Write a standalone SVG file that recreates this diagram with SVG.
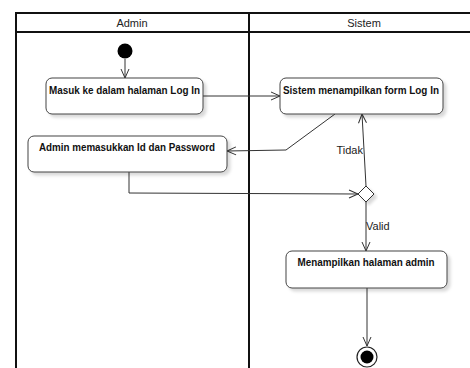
<svg xmlns="http://www.w3.org/2000/svg" width="470" height="368" viewBox="0 0 470 368">
<defs>
<marker id="arr" markerWidth="12" markerHeight="12" refX="10" refY="5" orient="auto" markerUnits="userSpaceOnUse">
<path d="M1,1 L10,5 L1,9" fill="none" stroke="#333" stroke-width="1"/>
</marker>
<filter id="sh" x="-10%" y="-20%" width="130%" height="150%">
<feDropShadow dx="3" dy="3" stdDeviation="1.5" flood-color="#000" flood-opacity="0.15"/>
</filter>
</defs>
<style>
.lane{fill:none;stroke:#111;stroke-width:2}
.hdr{font-family:"Liberation Sans",Arial,sans-serif;font-size:11px;fill:#222;text-anchor:middle}
.box{fill:#fff;stroke:#444;stroke-width:1;filter:url(#sh)}
.lbl{font-family:"Liberation Sans",Arial,sans-serif;font-size:11px;font-weight:bold;fill:#111;text-anchor:middle}
.edge{fill:none;stroke:#333;stroke-width:1;marker-end:url(#arr)}
.plain{fill:none;stroke:#333;stroke-width:1}
.elbl{font-family:"Liberation Sans",Arial,sans-serif;font-size:11px;fill:#222}
</style>
<rect width="470" height="368" fill="#fff"/>
<g id="swimlanes">
<path class="lane" d="M16,368 L16,13 L470,13"/>
<line class="lane" x1="16" y1="32" x2="470" y2="32"/>
<line class="lane" x1="249" y1="13" x2="249" y2="368"/>
<text class="hdr" x="132" y="27">Admin</text>
<text class="hdr" x="364" y="27">Sistem</text>
</g>
<g id="connectors">
<line class="edge" x1="125" y1="59" x2="125" y2="78"/>
<line class="edge" x1="203" y1="96" x2="280" y2="96"/>
<polyline class="edge" points="335,114 286,150 227,151"/>
<polyline class="edge" points="129,172 129,193 358,194"/>
<line class="edge" x1="366" y1="186" x2="362" y2="114"/>
<text class="elbl" x="363" y="154" text-anchor="end">Tidak</text>
<line class="edge" x1="366" y1="202" x2="366" y2="251"/>
<text class="elbl" x="366" y="230">Valid</text>
<line class="edge" x1="367" y1="288" x2="367" y2="346"/>
</g>
<g id="start">
<circle cx="125" cy="51" r="7.5" fill="#000"/>
</g>
<g id="masuk-login">
<rect class="box" x="46" y="78" width="157" height="36" rx="6"/>
<text class="lbl" x="124.5" y="94" textLength="151" lengthAdjust="spacingAndGlyphs">Masuk ke dalam halaman Log In</text>
</g>
<g id="input-id-password">
<rect class="box" x="28" y="136" width="199" height="36" rx="6"/>
<text class="lbl" x="127" y="151" textLength="176" lengthAdjust="spacingAndGlyphs">Admin memasukkan Id dan Password</text>
</g>
<g id="form-login">
<rect class="box" x="280" y="78" width="163" height="36" rx="6"/>
<text class="lbl" x="361" y="94" textLength="156" lengthAdjust="spacingAndGlyphs">Sistem menampilkan form Log In</text>
</g>
<g id="decision">
<polygon points="366,186 374,194 366,202 358,194" fill="#fff" stroke="#333" stroke-width="1" filter="url(#sh)"/>
</g>
<g id="halaman-admin">
<rect class="box" x="286" y="251" width="161" height="37" rx="6"/>
<text class="lbl" x="366" y="266" textLength="137" lengthAdjust="spacingAndGlyphs">Menampilkan halaman admin</text>
</g>
<g id="end">
<circle cx="367" cy="357" r="10" fill="#fff" stroke="#222" stroke-width="1.2"/>
<circle cx="367" cy="357" r="6.5" fill="#000"/>
</g>
</svg>
